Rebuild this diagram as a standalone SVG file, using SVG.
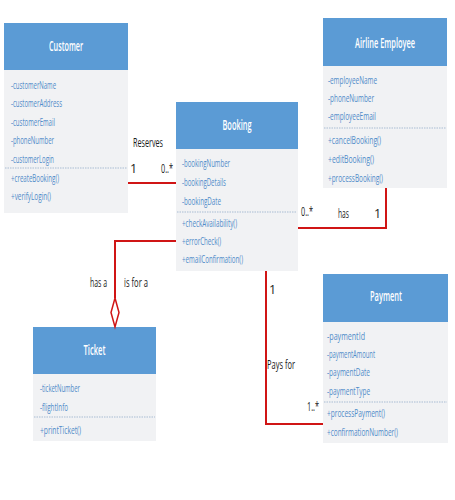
<svg xmlns="http://www.w3.org/2000/svg" width="455" height="500" viewBox="0 0 455 500">
<style>
.hdr{fill:#5B9BD5}
.body{fill:#F1F2F4}
.ttl{font-family:"Open Sans","Liberation Sans",sans-serif;font-size:14px;font-weight:600;fill:#FFFFFF;text-anchor:middle}
.mem{font-family:"Open Sans","Liberation Sans",sans-serif;font-size:11.5px;fill:#4F8BC9}
.div{stroke:#A9BCD3;stroke-width:1;stroke-dasharray:1.5 1}
.lbl{font-family:"Open Sans","Liberation Sans",sans-serif;font-size:12.5px;fill:#1A1A1A}
.con{fill:none;stroke:#D01515;stroke-width:2}
</style>
<rect width="455" height="500" fill="#FFFFFF"/>

<g id="customer">
<rect class="body" x="4" y="23" width="124" height="190"/>
<rect class="hdr" x="4" y="23" width="124" height="47"/>
<text class="ttl" x="66" y="51" textLength="34" lengthAdjust="spacingAndGlyphs">Customer</text>
<text class="mem" x="11" y="89" textLength="45" lengthAdjust="spacingAndGlyphs">-customerName</text>
<text class="mem" x="11" y="107" textLength="51" lengthAdjust="spacingAndGlyphs">-customerAddress</text>
<text class="mem" x="11" y="126" textLength="44" lengthAdjust="spacingAndGlyphs">-customerEmail</text>
<text class="mem" x="11" y="144" textLength="43" lengthAdjust="spacingAndGlyphs">-phoneNumber</text>
<text class="mem" x="11" y="163" textLength="43" lengthAdjust="spacingAndGlyphs">-customerLogin</text>
<line class="div" x1="5" y1="168" x2="127" y2="168"/>
<text class="mem" x="11" y="182" textLength="48" lengthAdjust="spacingAndGlyphs">+createBooking()</text>
<text class="mem" x="11" y="200" textLength="40" lengthAdjust="spacingAndGlyphs">+verifyLogin()</text>
</g>

<g id="booking">
<rect class="body" x="176" y="102" width="122" height="169"/>
<rect class="hdr" x="176" y="102" width="122" height="47"/>
<text class="ttl" x="237" y="130" textLength="29" lengthAdjust="spacingAndGlyphs">Booking</text>
<text class="mem" x="182" y="167" textLength="48" lengthAdjust="spacingAndGlyphs">-bookingNumber</text>
<text class="mem" x="182" y="186" textLength="44" lengthAdjust="spacingAndGlyphs">-bookingDetails</text>
<text class="mem" x="182" y="205" textLength="39" lengthAdjust="spacingAndGlyphs">-bookingDate</text>
<line class="div" x1="177" y1="212" x2="297" y2="212"/>
<text class="mem" x="182" y="227" textLength="55" lengthAdjust="spacingAndGlyphs">+checkAvailability()</text>
<text class="mem" x="182" y="245" textLength="39" lengthAdjust="spacingAndGlyphs">+errorCheck()</text>
<text class="mem" x="182" y="263" textLength="61" lengthAdjust="spacingAndGlyphs">+emailConfirmation()</text>
</g>

<g id="airline-employee">
<rect class="body" x="323" y="18" width="124" height="170"/>
<rect class="hdr" x="323" y="18" width="124" height="48"/>
<text class="ttl" transform="translate(385,48) scale(0.5,1)" x="0" y="0" textLength="120" lengthAdjust="spacingAndGlyphs">Airline Employee</text>
<text class="mem" x="328" y="84" textLength="49" lengthAdjust="spacingAndGlyphs">-employeeName</text>
<text class="mem" x="328" y="102" textLength="46" lengthAdjust="spacingAndGlyphs">-phoneNumber</text>
<text class="mem" x="328" y="120" textLength="48" lengthAdjust="spacingAndGlyphs">-employeeEmail</text>
<line class="div" x1="324" y1="128" x2="446" y2="128"/>
<text class="mem" x="328" y="144" textLength="53" lengthAdjust="spacingAndGlyphs">+cancelBooking()</text>
<text class="mem" x="328" y="163" textLength="46" lengthAdjust="spacingAndGlyphs">+editBooking()</text>
<text class="mem" x="328" y="182" textLength="55" lengthAdjust="spacingAndGlyphs">+processBooking()</text>
</g>

<g id="ticket">
<rect class="body" x="33" y="327" width="123" height="114"/>
<rect class="hdr" x="33" y="327" width="123" height="47"/>
<text class="ttl" x="94.5" y="355" textLength="22" lengthAdjust="spacingAndGlyphs">Ticket</text>
<text class="mem" x="40" y="392" textLength="40" lengthAdjust="spacingAndGlyphs">-ticketNumber</text>
<text class="mem" x="40" y="411" textLength="28" lengthAdjust="spacingAndGlyphs">-flightInfo</text>
<line class="div" x1="34" y1="417" x2="155" y2="417"/>
<text class="mem" x="40" y="434" textLength="41" lengthAdjust="spacingAndGlyphs">+printTicket()</text>
</g>

<g id="payment">
<rect class="body" x="323" y="274" width="125" height="169"/>
<rect class="hdr" x="323" y="274" width="125" height="48"/>
<text class="ttl" x="386" y="301" textLength="32" lengthAdjust="spacingAndGlyphs">Payment</text>
<text class="mem" x="327" y="340" textLength="38" lengthAdjust="spacingAndGlyphs">-paymentId</text>
<text class="mem" x="327" y="358" textLength="48" lengthAdjust="spacingAndGlyphs">-paymentAmount</text>
<text class="mem" x="327" y="376" textLength="43" lengthAdjust="spacingAndGlyphs">-paymentDate</text>
<text class="mem" x="327" y="395" textLength="43" lengthAdjust="spacingAndGlyphs">-paymentType</text>
<line class="div" x1="324" y1="402" x2="447" y2="402"/>
<text class="mem" x="327" y="417" textLength="58" lengthAdjust="spacingAndGlyphs">+processPayment()</text>
<text class="mem" x="327" y="436" textLength="71" lengthAdjust="spacingAndGlyphs">+confirmationNumber()</text>
</g>

<g id="connectors">
<line class="con" x1="128" y1="183" x2="176" y2="183"/>
<polyline class="con" points="298,228 386,228 386,188"/>
<polyline class="con" points="176,241 115,241 115,298"/>
<polygon points="115,298 119,312.5 115,327 111,312.5" fill="#FFFFFF" stroke="#D01515" stroke-width="1.5"/>
<polyline class="con" points="266,271 266,424 323,424"/>
<text class="lbl" x="133" y="147" textLength="30" lengthAdjust="spacingAndGlyphs">Reserves</text>
<text class="lbl" x="130" y="173">1</text>
<text class="lbl" x="161" y="173" textLength="12" lengthAdjust="spacingAndGlyphs">0..*</text>
<text class="lbl" x="301" y="216" textLength="12" lengthAdjust="spacingAndGlyphs">0..*</text>
<text class="lbl" x="338" y="218" textLength="11" lengthAdjust="spacingAndGlyphs">has</text>
<text class="lbl" x="374" y="218">1</text>
<text class="lbl" x="90" y="287" textLength="17" lengthAdjust="spacingAndGlyphs">has a</text>
<text class="lbl" x="124" y="287" textLength="24" lengthAdjust="spacingAndGlyphs">is for a</text>
<text class="lbl" x="269" y="294">1</text>
<text class="lbl" x="267" y="369" textLength="28" lengthAdjust="spacingAndGlyphs">Pays for</text>
<text class="lbl" x="307" y="411" textLength="12" lengthAdjust="spacingAndGlyphs">1..*</text>
</g>
</svg>
